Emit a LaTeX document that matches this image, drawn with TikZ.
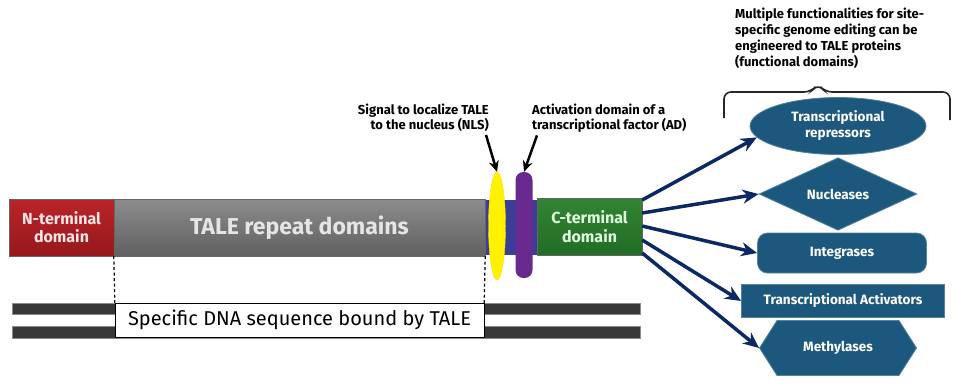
\documentclass[tikz,border=0pt]{standalone}
\usepackage{fontspec}
\setmainfont{Fira Sans}
\usetikzlibrary{arrows.meta,shapes.geometric,shapes.symbols}

\definecolor{nredtop}{RGB}{186,36,40}
\definecolor{nred}{RGB}{150,24,28}
\definecolor{repgraytop}{RGB}{140,140,140}
\definecolor{repgray}{RGB}{96,96,96}
\definecolor{linkblue}{RGB}{58,62,150}
\definecolor{adpurple}{RGB}{104,42,142}
\definecolor{cgreentop}{RGB}{50,132,50}
\definecolor{cgreen}{RGB}{34,108,38}
\definecolor{fblue}{RGB}{28,88,126}
\definecolor{navy}{RGB}{12,40,100}

\begin{document}
\begin{tikzpicture}[x=1pt,y=-1pt,font=\bfseries,
    domain box/.style={rectangle,draw=black!60,inner sep=0pt,minimum height=57pt,align=center},
    func node/.style={draw=fblue!75!white,line width=0.8pt,fill=fblue,text=white,inner sep=0pt,
                      align=center,font=\bfseries\fontsize{13.5}{16}\selectfont},
    fan/.style={draw=navy,line width=3.5pt,-{Stealth[length=16pt,width=14pt]}},
    pointer/.style={draw=black,line width=2.5pt,-{Stealth[length=11pt,width=10pt]}},
    label text/.style={inner sep=0pt,font=\bfseries\fontsize{13}{15}\selectfont},
    strand/.style={rectangle,fill=black!78,draw=black!45,line width=0.8pt,inner sep=0pt,minimum width=628pt}]

  \useasboundingbox (0,0) rectangle (953,389);

  % DNA double strand
  \node[strand,minimum height=11pt] (top strand) at (326,308.5) {};
  \node[strand,minimum height=12pt] (bottom strand) at (326,332) {};
  \node[draw=black,fill=white,inner sep=0pt,minimum width=369pt,minimum height=34pt,
        font=\fontsize{20}{22}\selectfont] (site) at (299.5,320) {Specific DNA sequence bound by TALE};

  % the TALE protein
  \node[rectangle,fill=linkblue,inner sep=0pt,minimum width=52pt,minimum height=55pt] (linker) at (511,227.5) {};
  \node[domain box,top color=nredtop,bottom color=nred,minimum width=105pt,text=white!90!red,
        font=\bfseries\fontsize{16}{18}\selectfont] (nterm) at (61.5,227.5) {N-terminal\\domain};
  \node[domain box,top color=repgraytop,bottom color=repgray,minimum width=371pt,text=white!90!black,
        font=\bfseries\fontsize{23}{26}\selectfont] (repeats) at (299.5,227.5) {TALE repeat domains};
  \node[domain box,top color=cgreentop,bottom color=cgreen,minimum width=105pt,text=white!88!green,
        font=\bfseries\fontsize{16}{19}\selectfont] (cterm) at (589.5,227) {C-terminal\\domain};
  \node[ellipse,fill=yellow,draw=yellow!85!orange,inner sep=0pt,minimum width=17pt,minimum height=108pt] (nls) at (497,226) {};
  \node[rectangle,rounded corners=8pt,fill=adpurple,inner sep=0pt,minimum width=17pt,minimum height=106pt] (ad) at (524,225) {};

  \draw[black,line width=1.2pt,dash pattern=on 3pt off 2.5pt] (repeats.south west) -- (site.north west);
  \draw[black,line width=1.2pt,dash pattern=on 3pt off 2.5pt] (repeats.south east) -- (site.north east);

  % labels above the protein
  \node[label text,anchor=east,align=right] (nlslabel) at (489,118) {Signal to localize TALE\\to the nucleus (NLS)};
  \node[label text,anchor=west,align=left] (adlabel) at (532,118) {Activation domain of a\\transcriptional factor (AD)};
  \draw[pointer] ([xshift=-3pt,yshift=-3pt]nlslabel.south east) -- (nls.north);
  \draw[pointer] ([xshift=5pt,yshift=-3pt]adlabel.south west) -- (ad.north);

  % functional domains
  \node[func node,ellipse,minimum width=176pt,minimum height=57pt] (rep) at (838,126) {Transcriptional\\repressors};
  \node[func node,diamond,minimum width=158pt,minimum height=68pt] (nuc) at (838,194) {Nucleases};
  \node[func node,rectangle,rounded corners=10pt,minimum width=169pt,minimum height=40pt] (int) at (842,253) {Integrases};
  \node[func node,rectangle,minimum width=203pt,minimum height=33pt] (act) at (843,301) {Transcriptional Activators};
  \node[func node,signal,signal to=east and west,signal pointer angle=115,minimum width=157pt,minimum height=55pt] (met) at (838,348) {Methylases};

  \path[every edge/.style={fan}]
    ([yshift=27pt]cterm.east) edge (rep.188)
    ([yshift=14pt]cterm.east) edge (nuc.west)
    ([yshift=1pt]cterm.east)  edge (int.west)
    ([yshift=-13pt]cterm.east) edge (act.west)
    ([yshift=-26pt]cterm.east) edge (met.west);

  % brace over the functional domains
  \draw[black!85,line width=1.6pt,rounded corners=7pt] (724,118) |- (811,92) -- (818,84) -- (825,92) -| (950,120);
  \node[anchor=north west,align=left,inner sep=0pt,font=\bfseries\fontsize{13}{16}\selectfont] (summary) at (735,8)
    {Multiple functionalities for site-\\specific genome editing can be\\engineered to TALE proteins\\(functional domains)};
\end{tikzpicture}
\end{document}
